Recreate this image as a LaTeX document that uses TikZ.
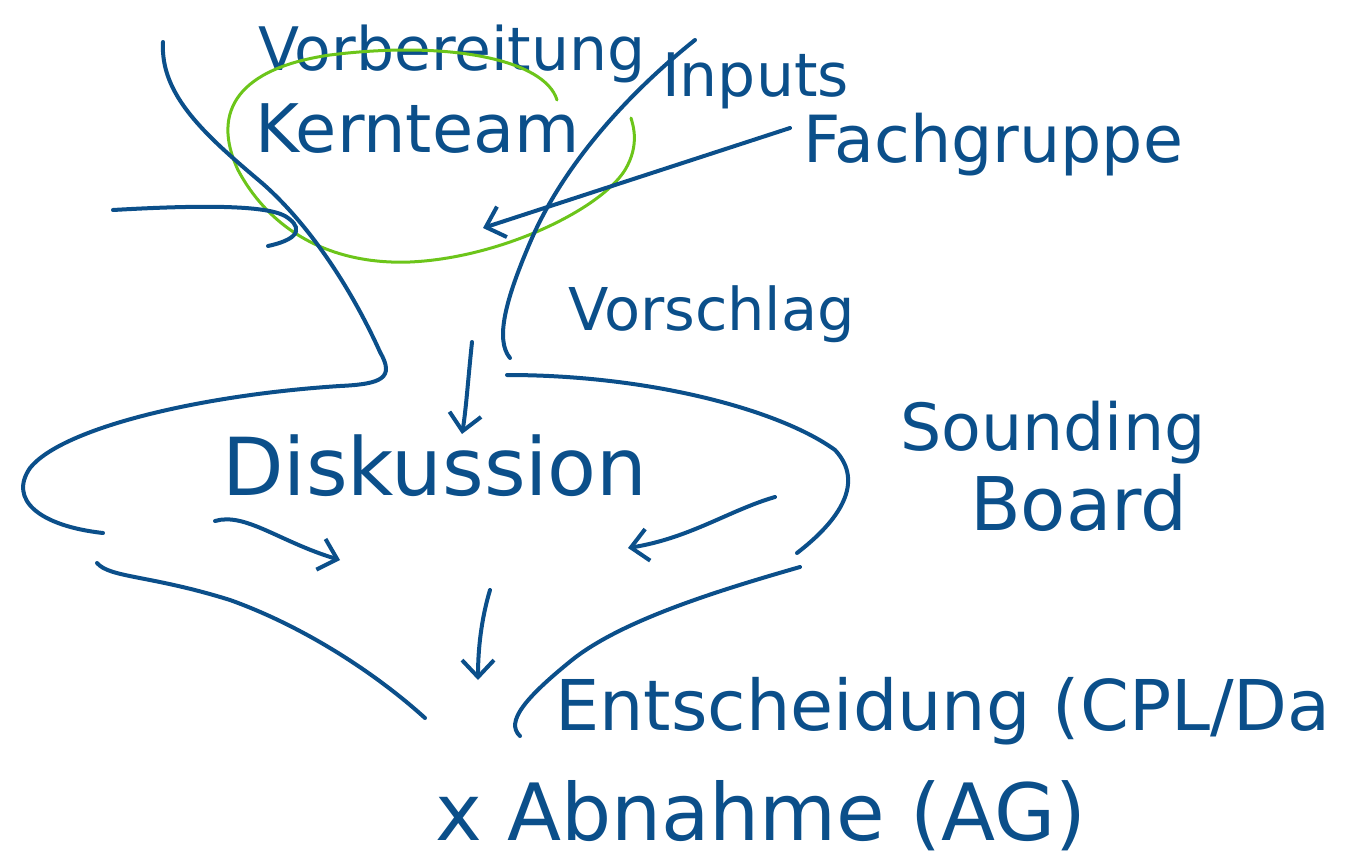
\documentclass[tikz,border=0pt]{standalone}
\usepackage{fontspec}
\setmainfont{DejaVu Sans}
\usetikzlibrary{arrows.meta}
\definecolor{penblue}{HTML}{0B4F8A}
\definecolor{markgreen}{HTML}{6CC51A}
\tikzstyle{stroke}=[draw=penblue,line width=4pt,line cap=round,line join=round]
\tikzstyle{penarrow}=[stroke,-{Straight Barb[length=17pt,width=32pt,line width=4pt]}]
\tikzstyle{marker}=[draw=markgreen,line width=3pt,line cap=round]
\tikzstyle{word}=[text=penblue,anchor=base west,inner sep=0pt]
\def\pen#1{\fontsize{#1}{#1}\selectfont} % handwriting size in px

\begin{document}
\begin{tikzpicture}[x=1pt,y=-1pt]
\useasboundingbox (0,0) rectangle (1345,862);
% labels
\node[word,font=\pen{60}] (vorbereitung) at (258,70) {Vorbereitung};
\node[word,font=\pen{67}] (kernteam) at (255,152) {Kernteam};
\node[word,font=\pen{60}] (inputs) at (662,96) {Inputs};
\node[word,font=\pen{65}] (fachgruppe) at (803,162) {Fachgruppe};
\node[word,font=\pen{59}] (vorschlag) at (568,330) {Vorschlag};
\node[word,font=\pen{80}] (diskussion) at (222,495) {Diskussion};
\node[word,font=\pen{65}] (sounding) at (900,450) {Sounding};
\node[word,font=\pen{74}] (board) at (970,530) {Board};
\node[word,font=\pen{70}] (entscheidung) at (555,730) {Entscheidung (CPL/Da};
\node[word,font=\pen{79}] (abnahme) at (435,840) {x Abnahme (AG)};
% green loop round the core team
\draw[marker] (557,100) .. controls (545,60) and (450,40) .. (330,55)
  .. controls (240,68) and (210,110) .. (238,170)
  .. controls (270,230) and (330,265) .. (410,262)
  .. controls (500,258) and (600,210) .. (625,170)
  .. controls (640,145) and (633,125) .. (631,118);
% funnel, upper part
\draw[stroke] (163,42) .. controls (160,95) and (205,135) .. (262,183)
  .. controls (310,225) and (352,290) .. (380,352);
\draw[stroke] (113,210) .. controls (200,205) and (265,205) .. (285,216)
  .. controls (300,225) and (305,238) .. (268,246);
\draw[stroke] (695,40) .. controls (620,100) and (562,170) .. (532,238)
  .. controls (505,300) and (495,340) .. (510,358);
% funnel, middle part
\draw[stroke] (380,352) .. controls (395,378) and (382,384) .. (340,386)
  .. controls (200,395) and (62,428) .. (30,468)
  .. controls (8,500) and (40,526) .. (103,533);
\draw[stroke] (507,375) .. controls (650,375) and (780,410) .. (835,450)
  .. controls (865,482) and (840,520) .. (797,553);
% funnel, lower part
\draw[stroke] (97,563) .. controls (110,578) and (150,575) .. (230,600)
  .. controls (300,625) and (372,670) .. (425,718);
\draw[stroke] (800,567) .. controls (720,590) and (622,620) .. (572,660)
  .. controls (525,698) and (505,722) .. (520,736);
% arrows
\coordinate (fg-tail) at (790,128);
\coordinate (fg-tip) at (483,228);
\coordinate (vs-tail) at (472,342);
\coordinate (vs-tip) at (462,434);
\coordinate (sl-tail) at (215,521);
\coordinate (sl-tip) at (340,560);
\coordinate (sr-tail) at (775,497);
\coordinate (sr-tip) at (628,548);
\coordinate (dn-tail) at (490,590);
\coordinate (dn-tip) at (478,680);
\draw[penarrow] (fg-tail) -- (fg-tip);
\draw[penarrow] (vs-tail) .. controls (468,380) and (466,410) .. (vs-tip);
\draw[penarrow] (sl-tail) .. controls (245,512) and (280,542) .. (sl-tip);
\draw[penarrow] (sr-tail) .. controls (730,510) and (690,538) .. (sr-tip);
\draw[penarrow] (dn-tail) .. controls (481,620) and (478,650) .. (dn-tip);
\end{tikzpicture}
\end{document}
